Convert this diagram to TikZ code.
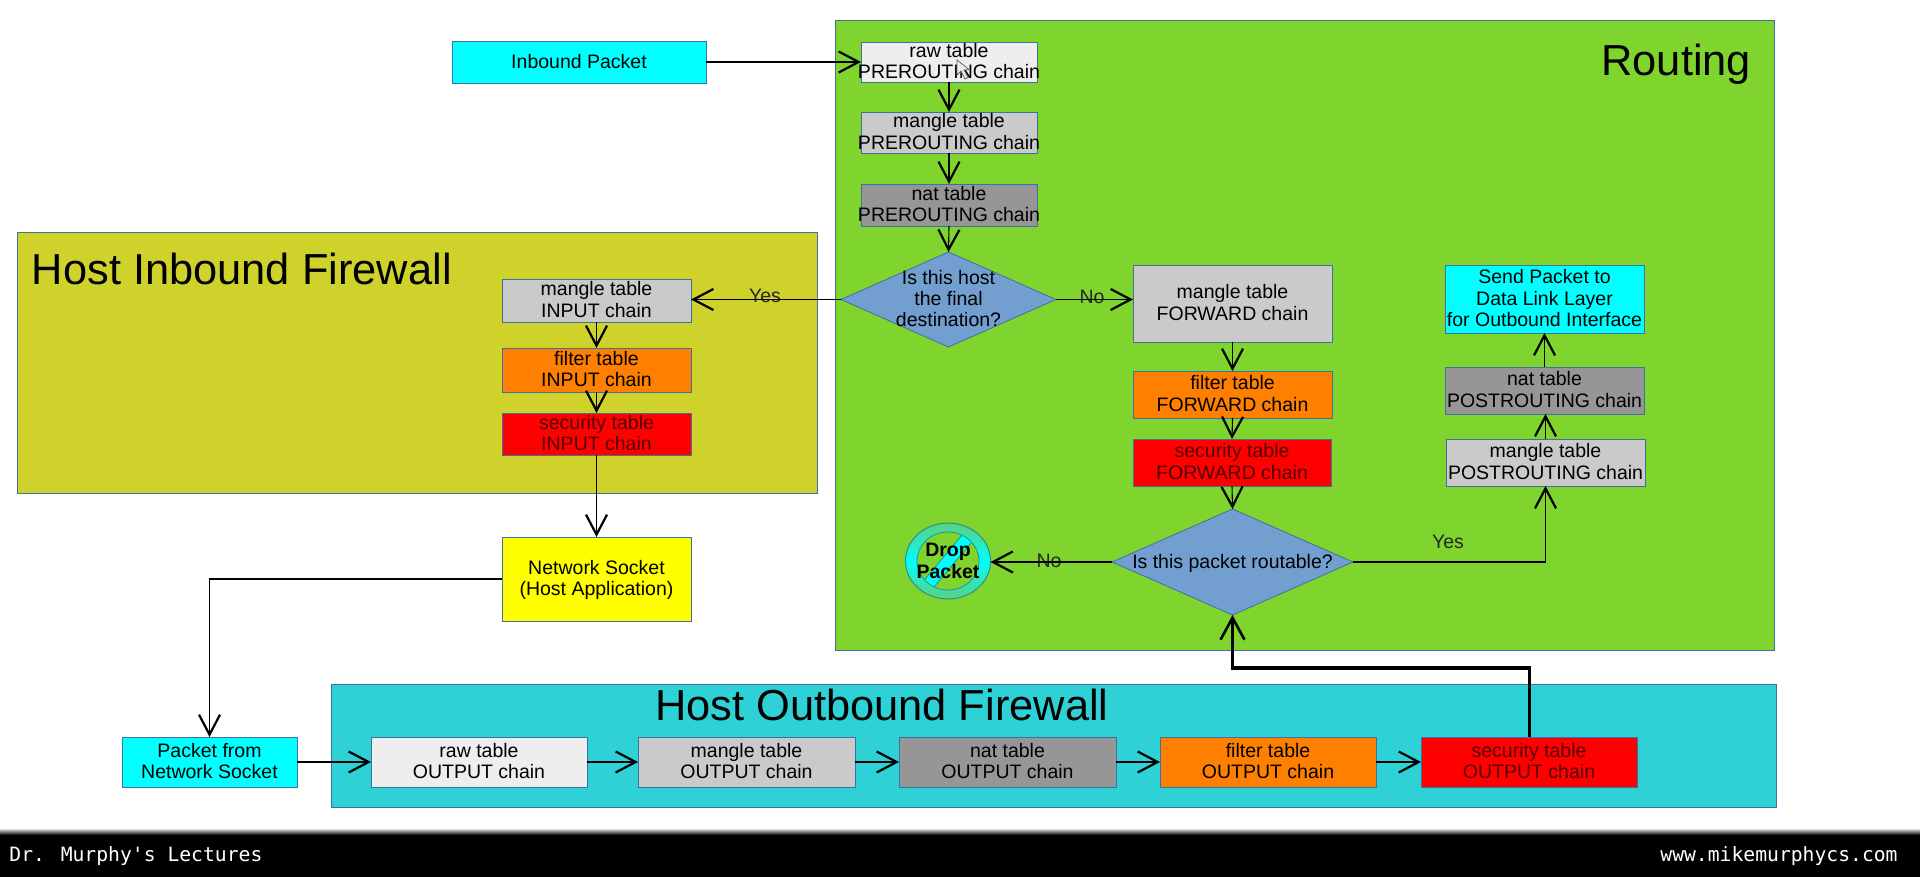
\documentclass[tikz,border=0pt]{standalone}
\usepackage{fontspec}
\setmainfont{Liberation Sans}
\newfontfamily\footfont{DejaVu Sans Mono}
\usetikzlibrary{arrows.meta,shapes.geometric}
\definecolor{edgeblue}{HTML}{40709F}
\definecolor{routegreen}{HTML}{7FD42D}
\definecolor{olivebox}{HTML}{D0D22C}
\definecolor{tealbox}{HTML}{2ED1D5}
\definecolor{lightg}{HTML}{EEEEEE}
\definecolor{midg}{HTML}{CACACA}
\definecolor{darkg}{HTML}{969696}
\definecolor{orangeb}{HTML}{FF8000}
\definecolor{diamondblue}{HTML}{729FCF}
\definecolor{redtext}{HTML}{520000}
\definecolor{ringedge}{HTML}{2F8F8A}
\definecolor{ringgreen}{HTML}{5CCF80}
\definecolor{cyanb}{HTML}{00FFFF}
\definecolor{redb}{HTML}{FF0000}
\definecolor{yellowb}{HTML}{FFFF00}
\tikzset{
  tbl/.style={rectangle,draw=edgeblue,line width=0.4pt,inner sep=0pt,outer sep=0pt,text=black,
    font=\fontsize{9.75}{10.7}\selectfont},
  onred/.style={text=redtext},
  zone/.style={rectangle,draw=edgeblue,line width=0.4pt,inner sep=0pt,outer sep=0pt},
  title/.style={font=\fontsize{21.7}{24}\selectfont,inner sep=0pt,outer sep=0pt},
  decide/.style={diamond,draw=edgeblue,line width=0.4pt,fill=diamondblue,inner sep=0pt,outer sep=0pt,
    font=\fontsize{9.75}{10.7}\selectfont},
  lbl/.style={font=\fontsize{9.75}{10.7}\selectfont,inner sep=0pt,text=black!85},
  foot/.style={font=\footfont\fontsize{9.85}{12}\selectfont,text=white,inner sep=0pt},
  flow/.style={draw=black,line width=0.55pt,-{Straight Barb[length=10pt,width=10.5pt,line width=1.1pt]}},
  flowthick/.style={draw=black,line width=1.7pt,-{Straight Barb[length=11pt,width=12pt,line width=1.3pt]}}
}
\newcommand{\bx}[7]{%
  \pgfmathsetmacro\bxx{(#2+#4)/2}\pgfmathsetmacro\bxy{(#3+#5)/2}%
  \pgfmathsetmacro\bxw{(#4-#2)/2}\pgfmathsetmacro\bxh{(#5-#3)/2}%
  \node[#6,minimum width=\bxw pt,minimum height=\bxh pt] (#1) at (\bxx,\bxy)
    {\makebox[0pt]{\raisebox{-3.4pt}[0pt][0pt]{\begin{tabular}{@{}c@{}}#7\end{tabular}}}};}
\begin{document}
\begin{tikzpicture}[x=0.5pt,y=-0.5pt]
\useasboundingbox (0,0) rectangle (1920,877);
\fill[white] (0,0) rectangle (1920,877);
% zones
\bx{routing}{835}{20}{1774}{650}{zone,fill=routegreen}{}
\bx{inboundzone}{17}{232}{817}{493}{zone,fill=olivebox}{}
\bx{outboundzone}{331}{684}{1776}{807}{zone,fill=tealbox}{}
\node[title,anchor=base east] (routingtitle) at (1751,76) {Routing};
\node[title,anchor=base west] (inboundtitle) at (32,285) {Host Inbound Firewall};
\node[title,anchor=base west] (outboundtitle) at (655,720) {Host Outbound Firewall};
% top
\bx{inpkt}{452}{41}{706}{83}{tbl,fill=cyanb}{Inbound Packet}
\bx{rawpre}{861}{42}{1037}{82}{tbl,fill=lightg}{raw table\\PREROUTING chain}
\bx{manglepre}{861}{112}{1037}{153}{tbl,fill=midg}{mangle table\\PREROUTING chain}
\bx{natpre}{861}{184}{1037}{226}{tbl,fill=darkg}{nat table\\PREROUTING chain}
\bx{hostq}{841}{252}{1056}{347}{decide}{Is this host\\the final\\destination?}
% input
\bx{mangleinp}{502}{279}{691}{322}{tbl,fill=midg}{mangle table\\INPUT chain}
\bx{filterinp}{502}{348}{691}{392}{tbl,fill=orangeb}{filter table\\INPUT chain}
\bx{secinp}{502}{413}{691}{455}{tbl,fill=redb,onred}{security table\\INPUT chain}
\bx{socket}{502}{537}{691}{621}{tbl,fill=yellowb}{Network Socket\\(Host Application)}
% forward
\bx{manglefwd}{1133}{265}{1332}{342}{tbl,fill=midg}{mangle table\\FORWARD chain}
\bx{filterfwd}{1133}{371}{1332}{418}{tbl,fill=orangeb}{filter table\\FORWARD chain}
\bx{secfwd}{1133}{439}{1331}{486}{tbl,fill=redb,onred}{security table\\FORWARD chain}
\bx{routeq}{1112}{509}{1353}{615}{decide}{Is this packet routable?}
% postrouting
\bx{send}{1445}{265}{1644}{333}{tbl,fill=cyanb}{Send Packet to\\Data Link Layer\\for Outbound Interface}
\bx{natpost}{1445}{367}{1644}{414}{tbl,fill=darkg}{nat table\\POSTROUTING chain}
\bx{manglepost}{1446}{439}{1645}{486}{tbl,fill=midg}{mangle table\\POSTROUTING chain}
% output row
\bx{frompkt}{122}{737}{297}{787}{tbl,fill=cyanb}{Packet from\\Network Socket}
\bx{rawout}{371}{737}{587}{787}{tbl,fill=lightg}{raw table\\OUTPUT chain}
\bx{mangleout}{638}{737}{855}{787}{tbl,fill=midg}{mangle table\\OUTPUT chain}
\bx{natout}{899}{737}{1116}{787}{tbl,fill=darkg}{nat table\\OUTPUT chain}
\bx{filterout}{1160}{737}{1376}{787}{tbl,fill=orangeb}{filter table\\OUTPUT chain}
\bx{secout}{1421}{737}{1637}{787}{tbl,fill=redb,onred}{security table\\OUTPUT chain}
% drop symbol
\path[even odd rule,shade,top color=ringgreen,bottom color=ringgreen,middle color=cyanb]
  (948,561) ellipse [x radius=21.25pt,y radius=19pt] (948,561) ellipse [x radius=15.5pt,y radius=14.5pt];
\begin{scope}
  \clip (948,561) ellipse [x radius=15.5pt,y radius=14.5pt];
  \fill[cyanb,rotate around={50:(948,561)}] (900,555) rectangle (996,567);
  \draw[ringedge,line width=0.4pt,rotate around={50:(948,561)}] (900,555) -- (996,555) (900,567) -- (996,567);
\end{scope}
\draw[ringedge,line width=0.5pt] (948,561) ellipse [x radius=21.25pt,y radius=19pt];
\draw[ringedge,line width=0.4pt] (948,561) ellipse [x radius=15.5pt,y radius=14.5pt];
\node[ellipse,minimum width=42.5pt,minimum height=38pt,inner sep=0pt,outer sep=0pt,
  font=\fontsize{9.75}{11}\selectfont\bfseries] (drop) at (948,561)
  {\makebox[0pt]{\raisebox{-3.4pt}[0pt][0pt]{\begin{tabular}{@{}c@{}}Drop\\Packet\end{tabular}}}};
% labels
\node[lbl] (yes1) at (765,296) {Yes};
\node[lbl] (no1) at (1092,297) {No};
\node[lbl] (no2) at (1049,561) {No};
\node[lbl] (yes2) at (1448,542) {Yes};
% connectors
\draw[flow] (inpkt.east) -- (rawpre.west);
\draw[flow] (rawpre.south) -- (manglepre.north);
\draw[flow] (manglepre.south) -- (natpre.north);
\draw[flow] (natpre.south) -- (hostq.north);
\draw[flow] (hostq.west) -- (hostq.west -| mangleinp.east);
\draw[flow] (hostq.east) -- (hostq.east -| manglefwd.west);
\draw[flow] (mangleinp.south) -- (filterinp.north);
\draw[flow] (filterinp.south) -- (secinp.north);
\draw[flow] (secinp.south) -- (socket.north);
\draw[flow] (socket.west) -| (frompkt.north);
\draw[flow] (manglefwd.south) -- (filterfwd.north);
\draw[flow] (filterfwd.south) -- (secfwd.north);
\draw[flow] (secfwd.south) -- (routeq.north);
\draw[flow] (routeq.west) -- (routeq.west -| drop.east);
\draw[flow] (routeq.east) -| (manglepost.south);
\draw[flow] (manglepost.north) -- (manglepost.north |- natpost.south);
\draw[flow] (natpost.north) -- (send.south);
\draw[flow] (frompkt.east) -- (rawout.west);
\draw[flow] (rawout.east) -- (mangleout.west);
\draw[flow] (mangleout.east) -- (natout.west);
\draw[flow] (natout.east) -- (filterout.west);
\draw[flow] (filterout.east) -- (secout.west);
\coordinate (bendr) at (1529.5,668);
\draw[flowthick] (bendr |- secout.north) -- (bendr) -| (routeq.south);
% mouse pointer
\draw[fill=lightg,draw=black!60,line width=0.4pt] (957,60) -- (957,75) -- (961,71) -- (965,79) -- (968,77.5) -- (964,70) -- (969,69.5) -- cycle;
% footer
\shade[top color=white,bottom color=black] (0,828) rectangle (1920,835);
\fill[black] (0,835) rectangle (1920,877);
\node[foot,anchor=base west] (footl) at (9,861) {Dr. Murphy's Lectures};
\node[foot,anchor=base east] (footr) at (1898,861) {www.mikemurphycs.com};
\end{tikzpicture}
\end{document}
